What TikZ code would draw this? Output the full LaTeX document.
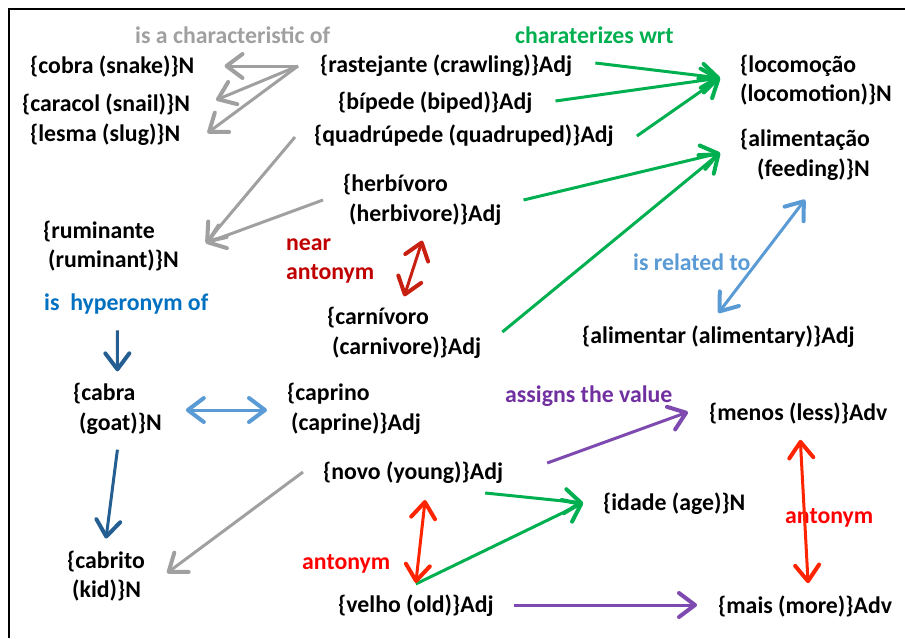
\documentclass[tikz,border=0pt]{standalone}
\usepackage{fontspec}
\setmainfont{Carlito}
\usetikzlibrary{arrows.meta}
\definecolor{relgray}{HTML}{A0A0A0}
\definecolor{relgreen}{HTML}{00B050}
\definecolor{neartext}{HTML}{C00000}
\definecolor{neararrow}{HTML}{C82010}
\definecolor{hypertext}{HTML}{0070C0}
\definecolor{hyperarrow}{HTML}{255E91}
\definecolor{relblue}{HTML}{5B9BD5}
\definecolor{valtext}{HTML}{7030A0}
\definecolor{valarrow}{HTML}{7E4AB0}
\definecolor{anttext}{HTML}{FF0000}
\definecolor{antarrow}{HTML}{FF2400}
\begin{document}
\begin{tikzpicture}[x = 1pt, y = -1pt,
    word/.style = {anchor = west, inner sep = 0pt, align = left, font = \fontsize{23.8}{29.5}\selectfont\bfseries},
    barb/.tip = {Straight Barb[round, length = 16pt, width = 24pt, line width = 4pt]},
    rel/.style = {line width = 3pt, -barb},
    twoway/.style = {line width = 3pt, barb-barb}]
    \useasboundingbox (0,0) rectangle (905,638);
    \draw [line width = 2pt] (9,638) -- (9,9) -- (905,9);
    % words
    \node [word] (cobra) at (30,66) {\{cobra (snake)\}N};
    \node [word] (caracol) at (22,104) {\{caracol (snail)\}N};
    \node [word] (lesma) at (30,135) {\{lesma (slug)\}N};
    \node [word] (rastejante) at (320,66) {\{rastejante (crawling)\}Adj};
    \node [word] (bipede) at (338,103) {\{bípede (biped)\}Adj};
    \node [word] (quadrupede) at (314,136) {\{quadrúpede (quadruped)\}Adj};
    \node [word] (locomocao) at (740,80) {\{locomoção\\(locomotion)\}N};
    \node [word] (alimentacao) at (740,155) {\{alimentação\\\hspace*{17pt}(feeding)\}N};
    \node [word] (herbivoro) at (343,200) {\{herbívoro\\\hspace*{6pt}(herbivore)\}Adj};
    \node [word] (ruminante) at (43,246) {\{ruminante\\\hspace*{5pt}(ruminant)\}N};
    \node [word] (carnivoro) at (327,333) {\{carnívoro\\\hspace*{5pt}(carnivore)\}Adj};
    \node [word] (alimentar) at (582,337) {\{alimentar (alimentary)\}Adj};
    \node [word] (cabra) at (73,409) {\{cabra\\\hspace*{6pt}(goat)\}N};
    \node [word] (caprino) at (287,409) {\{caprino\\\hspace*{4pt}(caprine)\}Adj};
    \node [word] (menos) at (709,413) {\{menos (less)\}Adv};
    \node [word] (novo) at (323,473) {\{novo (young)\}Adj};
    \node [word] (idade) at (603,504) {\{idade (age)\}N};
    \node [word] (cabrito) at (67,576) {\{cabrito\\\hspace*{5pt}(kid)\}N};
    \node [word] (velho) at (338,606) {\{velho (old)\}Adj};
    \node [word] (mais) at (718,606) {\{mais (more)\}Adv};
    % relation labels
    \node [word, text = relgray] (lchar) at (135,35) {is a characteristic of};
    \node [word, text = relgreen] (lwrt) at (515,35) {charaterizes wrt};
    \node [word, text = neartext] (lnear) at (286,261) {near\\antonym};
    \node [word, text = hypertext] (lhyper) at (44,304) {is\ \ hyperonym of};
    \node [word, text = relblue] (lrel) at (633,262) {is related to};
    \node [word, text = valtext] (lassign) at (505,396) {assigns the value};
    \node [word, text = anttext] (lant) at (302,564) {antonym};
    \node [word, text = anttext] (lantb) at (785,518) {antonym};
    % is a characteristic of
    \draw [rel, relgray] ([xshift = -22pt]rastejante.west) -- ([xshift = 30pt]cobra.east);
    \draw [rel, relgray] ([xshift = -22pt]rastejante.west) -- ([xshift = 26pt, yshift = 4pt]caracol.east);
    \draw [rel, relgray] ([xshift = -22pt]rastejante.west) -- ([xshift = 27pt, yshift = 2pt]lesma.east);
    \draw [rel, relgray] ([xshift = -19pt, yshift = -1pt]quadrupede.west) -- ([xshift = 27pt, yshift = 3pt]ruminante.east);
    \draw [rel, relgray] ([xshift = -20pt]herbivoro.west) -- ([xshift = 27pt, yshift = 3pt]ruminante.east);
    \draw [rel, relgray] ([xshift = -20pt, yshift = 1pt]novo.west) -- ([xshift = 22pt, yshift = 3pt]cabrito.east);
    % charaterizes wrt
    \draw [rel, relgreen] ([xshift = 23pt, yshift = 3pt]rastejante.east) -- ([xshift = -20pt, yshift = 2pt]locomocao.west);
    \draw [rel, relgreen] ([xshift = 23pt, yshift = 2pt]bipede.east) -- ([xshift = -20pt, yshift = 2pt]locomocao.west);
    \draw [rel, relgreen] ([xshift = 23pt]quadrupede.east) -- ([xshift = -20pt, yshift = 2pt]locomocao.west);
    \draw [rel, relgreen] ([xshift = 22pt]herbivoro.east) -- ([xshift = -20pt, yshift = 2pt]alimentacao.west);
    \draw [rel, relgreen] ([xshift = 21pt, yshift = 1pt]carnivoro.east) -- ([xshift = -20pt, yshift = 2pt]alimentacao.west);
    \draw [rel, relgreen] ([xshift = -18pt, yshift = -20pt]novo.east) -- ([xshift = -20pt, yshift = 1pt]idade.west);
    \draw [rel, relgreen] ([yshift = 11pt]velho.north) -- ([xshift = -20pt, yshift = 1pt]idade.west);
    % antonyms
    \draw [twoway, neararrow] ([yshift = -15pt]herbivoro.south) -- ([yshift = 11pt]carnivoro.north);
    \draw [twoway, antarrow] ([xshift = 12pt, yshift = -16pt]novo.south) -- ([yshift = 12pt]velho.north);
    \draw [twoway, antarrow] ([xshift = 2pt, yshift = -16pt]menos.south) -- ([xshift = 3pt, yshift = 12pt]mais.north);
    % is related to
    \draw [twoway, relblue] ([yshift = -19pt]alimentacao.south) -- ([yshift = 13pt]alimentar.north);
    \draw [twoway, relblue] ([xshift = 24pt, yshift = -1pt]cabra.east) -- ([xshift = -20pt, yshift = -1pt]caprino.west);
    % is hyperonym of
    \draw [rel, hyperarrow] ([xshift = -9pt, yshift = -16pt]lhyper.south) -- ([yshift = 12pt]cabra.north);
    \draw [rel, hyperarrow] ([yshift = -15pt]cabra.south) -- ([yshift = 12pt]cabrito.north);
    % assigns the value
    \draw [rel, valarrow] ([xshift = 44pt, yshift = 10pt]novo.east) -- ([xshift = -21pt, yshift = 1pt]menos.west);
    \draw [rel, valarrow] ([xshift = 20pt, yshift = 1pt]velho.east) -- ([xshift = -21pt, yshift = 1pt]mais.west);
\end{tikzpicture}
\end{document}
